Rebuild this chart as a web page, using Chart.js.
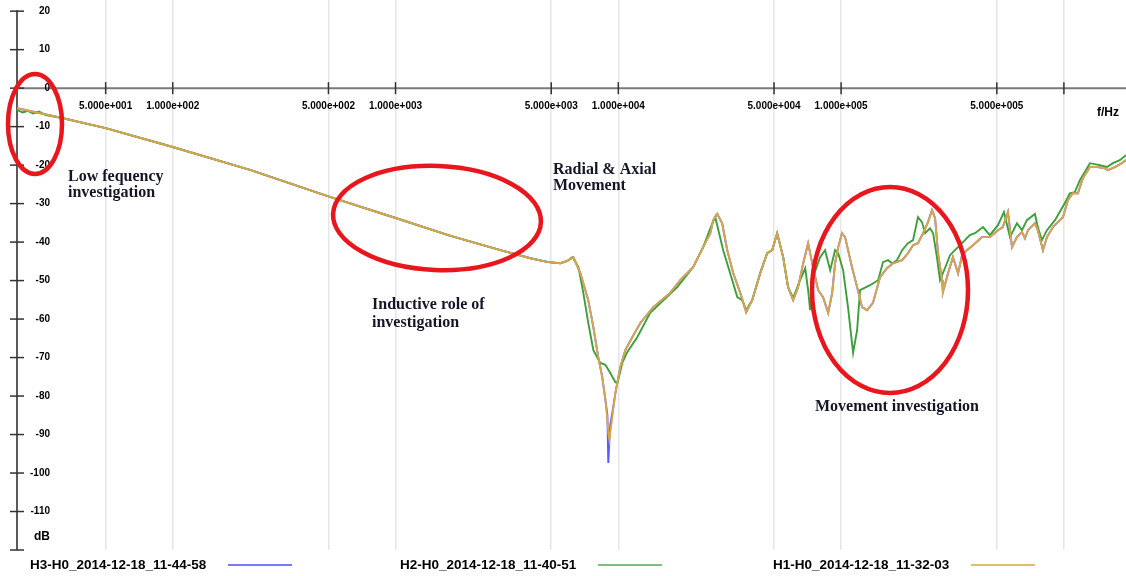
<!DOCTYPE html>
<html>
<head>
<meta charset="utf-8">
<script src="https://cdn.jsdelivr.net/npm/chart.js@4.4.1/dist/chart.umd.min.js"></script>
<style>
  html, body { margin: 0; padding: 0; background: #fff; }
  #wrap { width: 1126px; height: 576px; }
</style>
</head>
<body>
<div id="wrap"><canvas id="fra" width="1126" height="576"></canvas></div>
<script>
// frequency (Hz) and magnitude (dB)
const freqH1 = [20, 31.5, 50, 100, 224, 511, 1010, 1766, 2958, 4030, 4853, 5495, 5904, 6285, 6761, 7330, 7727, 8128, 8472, 8750,
  8933, 9016, 9120, 9204, 9397, 9705, 9908, 10210, 10740, 11560, 12560, 14350, 17100, 18970, 21680, 24040, 25880, 26680, 27800, 29250,
  30830, 32810, 35260, 37500, 39890, 43340, 46560, 49060, 51650, 54950, 57810, 60950, 64120, 67610, 71120, 74820, 78890, 82990, 87500, 91200,
  93970, 97050, 100900, 104200, 111900, 118000, 124200, 130900, 139000, 149600, 160700, 171000, 187900, 199600, 210300, 221300, 233300, 245500, 255900, 264200,
  272300, 283800, 286400, 302000, 317700, 335000, 349100, 367300, 390800, 428500, 465600, 505800, 532100, 561000, 584800, 615200, 648600, 668300, 690200, 741300,
  763800, 805400, 839500, 893000, 990800, 1042000, 1096000, 1156000, 1216000, 1309000, 1419000, 1527000, 1575000, 1694000, 1820000, 1897000];
const dbH1 = [-5.2, -7.7, -10.4, -15.3, -21.3, -28.3, -33.8, -38.4, -42.1, -44.2, -45.2, -45.5, -44.9, -43.9, -48.1, -55.1, -62.1, -69.9, -75.1, -81.0,
  -86.2, -89.6, -91.4, -89.6, -85.5, -79.2, -76.4, -72.5, -68.1, -64.7, -61.0, -56.9, -53.2, -49.9, -46.5, -41.3, -37.7, -34.3, -32.7, -35.1,
  -42.1, -48.1, -53.2, -58.2, -55.1, -48.1, -42.9, -42.1, -37.7, -43.9, -51.7, -55.1, -51.7, -45.5, -40.3, -46.5, -52.5, -54.3, -58.4, -53.2,
  -45.5, -41.3, -37.7, -38.7, -46.5, -51.7, -56.9, -57.7, -55.8, -49.1, -46.8, -45.5, -44.7, -42.9, -40.8, -40.3, -37.7, -34.8, -31.7, -33.8,
  -42.9, -49.9, -53.0, -48.1, -43.9, -48.1, -43.4, -42.1, -40.8, -38.7, -38.7, -36.9, -36.1, -32.2, -41.3, -38.7, -37.4, -39.0, -36.9, -35.1,
  -36.9, -42.1, -38.7, -36.1, -33.5, -29.1, -27.3, -27.3, -23.4, -20.5, -20.5, -20.8, -21.3, -20.5, -19.5, -18.7];
// H3 follows H1 except in the resonance dip near 9 kHz
const dbH3 = dbH1.map((v, i) => v);
dbH3[20] = -84.9; dbH3[21] = -97.4; dbH3[22] = -91.4; dbH3[23] = -87.5; dbH3[24] = -84.4;

const freqH2 = [20, 21.2, 22.4, 23.6, 25.1, 26.9, 31.5, 50, 100, 224, 511, 1010, 1766, 2958, 4030, 4853, 5495, 5904, 6223, 6622,
  6966, 7330, 7727, 8299, 8750, 9204, 9705, 9908, 10420, 10960, 12160, 13900, 18400, 21680, 24040, 25880, 27230, 29560, 31770, 34200,
  35980, 37500, 39890, 43340, 46560, 49060, 51650, 54950, 57810, 60950, 65460, 69020, 71120, 72610, 74820, 80540, 84720, 89330, 93970, 97050,
  102100, 107400, 113200, 118000, 121600, 134900, 146600, 154200, 162600, 169400, 178200, 187900, 199600, 210300, 221300, 230700, 238200, 250600, 258800, 269200,
  278000, 292400, 308300, 324300, 335000, 359700, 378400, 398900, 433500, 465600, 505800, 538300, 572800, 615200, 648600, 682300, 741300, 763800, 796200, 839500,
  912000, 1009000, 1064000, 1120000, 1180000, 1309000, 1449000, 1560000, 1660000, 1783000, 1897000];
const dbH2 = [-5.7, -6.3, -5.9, -6.6, -6.1, -7.0, -7.7, -10.4, -15.3, -21.3, -28.3, -33.8, -38.4, -42.1, -44.2, -45.2, -45.5, -44.9, -43.9, -46.5,
  -53.2, -61.0, -68.1, -71.4, -71.9, -74.0, -76.4, -76.6, -71.4, -68.6, -64.7, -58.4, -51.7, -46.5, -41.3, -36.4, -33.5, -42.1, -48.1, -54.3,
  -55.1, -57.7, -55.1, -48.1, -42.9, -42.1, -37.7, -43.9, -51.7, -54.5, -49.9, -46.8, -52.5, -57.7, -49.1, -43.9, -42.1, -47.3, -42.1, -42.9,
  -47.3, -56.9, -68.8, -62.9, -52.5, -51.2, -49.9, -45.2, -44.7, -45.5, -44.7, -42.1, -40.3, -39.5, -33.5, -34.8, -37.7, -36.4, -37.7, -43.9,
  -49.9, -46.8, -43.4, -42.1, -41.3, -39.5, -38.2, -37.7, -36.1, -38.2, -35.6, -32.2, -38.7, -35.1, -36.9, -34.3, -32.7, -36.1, -39.5, -36.9,
  -34.3, -29.9, -27.3, -27.0, -23.9, -19.5, -20.0, -20.5, -19.5, -18.7, -17.4];

const seriesNames = ['H3-H0_2014-12-18_11-44-58', 'H2-H0_2014-12-18_11-40-51', 'H1-H0_2014-12-18_11-32-03'];
const seriesColors = ['#5a5aff', '#3d9e3d', '#d9a74a'];
const legendLineColors = ['#7a7aff', '#7dc07d', '#e3bc72'];
const xTicks = [50, 100, 500, 1000, 5000, 10000, 50000, 100000, 500000, 1000000];
const yTicks = [20, 10, 0, -10, -20, -30, -40, -50, -60, -70, -80, -90, -100, -110, -120];

function toPoints(fs, vs) {
    return fs.map((f, i) => ({ x: f, y: vs[i] }));
}

// 5.000e+001 style
function sci(v) {
    const e = Math.floor(Math.log10(v) + 1e-9);
    const m = v / Math.pow(10, e);
    return m.toFixed(3) + 'e' + (e < 0 ? '-' : '+') + String(Math.abs(e)).padStart(3, '0');
}

const axesDeco = {
    id: 'axesDeco',
    beforeDatasetsDraw(chart) {
        const ctx = chart.ctx;
        const xs = chart.scales.x, ys = chart.scales.y;
        const left = chart.chartArea.left, right = chart.chartArea.right;
        const y0 = ys.getPixelForValue(0);
        ctx.save();
        // x axis at 0 dB
        ctx.strokeStyle = '#7a7a7a';
        ctx.lineWidth = 2;
        ctx.beginPath(); ctx.moveTo(left, y0); ctx.lineTo(right, y0); ctx.stroke();
        // y axis
        ctx.strokeStyle = '#5a5a5a';
        ctx.beginPath();
        ctx.moveTo(left, ys.getPixelForValue(20) - 1);
        ctx.lineTo(left, ys.getPixelForValue(-120));
        ctx.stroke();

        ctx.strokeStyle = '#333';
        ctx.lineWidth = 1.5;
        ctx.fillStyle = '#000';
        ctx.font = 'bold 10px "Liberation Sans", Arial, sans-serif';
        ctx.textBaseline = 'middle';
        ctx.textAlign = 'right';
        yTicks.forEach((v) => {
            const py = ys.getPixelForValue(v);
            ctx.beginPath(); ctx.moveTo(left - 7, py); ctx.lineTo(left + 7, py); ctx.stroke();
            if (v > -120) ctx.fillText(String(v), 50, py);
        });
        ctx.font = 'bold 12px "Liberation Sans", Arial, sans-serif';
        ctx.fillText('dB', 50, ys.getPixelForValue(-116.5));

        ctx.font = 'bold 10px "Liberation Sans", Arial, sans-serif';
        ctx.textAlign = 'center';
        xTicks.forEach((v) => {
            const px = xs.getPixelForValue(v);
            ctx.beginPath(); ctx.moveTo(px, y0 - 6); ctx.lineTo(px, y0 + 6); ctx.stroke();
            if (v < 1000000) ctx.fillText(sci(v), px, y0 + 18);
        });
        ctx.font = 'bold 12px "Liberation Sans", Arial, sans-serif';
        ctx.textAlign = 'left';
        ctx.fillText('f/Hz', 1097, y0 + 25);
        ctx.restore();
    },
    afterDatasetsDraw(chart) {
        const ctx = chart.ctx;
        ctx.save();
        // red marks
        ctx.strokeStyle = '#e8161d';
        ctx.lineWidth = 4.5;
        [[35, 124, 27, 50, 0], [437, 218, 104, 52, 0.04], [890, 290, 78, 103, 0]].forEach((e) => {
            ctx.beginPath();
            ctx.ellipse(e[0], e[1], e[2], e[3], e[4], 0, Math.PI * 2);
            ctx.stroke();
        });
        // notes
        ctx.fillStyle = '#151528';
        ctx.font = 'bold 16px "Liberation Serif", "Times New Roman", serif';
        ctx.textAlign = 'left';
        ctx.textBaseline = 'middle';
        ctx.fillText('Low fequency', 68, 177);
        ctx.fillText('investigation', 68, 193);
        ctx.fillText('Radial & Axial', 553, 170);
        ctx.fillText('Movement', 553, 186);
        ctx.fillText('Inductive role of', 372, 305);
        ctx.fillText('investigation', 372, 323);
        ctx.fillText('Movement investigation', 815, 407);

        // legend: name then line sample
        const legendX = [30, 400, 773];
        ctx.font = 'bold 13.5px "Liberation Sans", Arial, sans-serif';
        ctx.fillStyle = '#000';
        chart.data.datasets.forEach((ds, i) => {
            ctx.fillText(ds.label, legendX[i], 565);
            const w = ctx.measureText(ds.label).width;
            const lx = legendX[i] + Math.max(w, 185) + 13;
            ctx.strokeStyle = legendLineColors[i];
            ctx.lineWidth = 2;
            ctx.beginPath(); ctx.moveTo(lx, 565); ctx.lineTo(lx + 64, 565); ctx.stroke();
        });
        ctx.restore();
    }
};

const fraChart = new Chart(document.getElementById('fra'), {
    type: 'line',
    data: {
        datasets: [
            { label: seriesNames[0], data: toPoints(freqH1, dbH3), borderColor: seriesColors[0], order: 3 },
            { label: seriesNames[1], data: toPoints(freqH2, dbH2), borderColor: seriesColors[1], order: 2 },
            { label: seriesNames[2], data: toPoints(freqH1, dbH1), borderColor: seriesColors[2], order: 1 }
        ]
    },
    options: {
        responsive: false,
        animation: false,
        layout: { padding: { left: 17, right: 0, top: 0, bottom: 26 } },
        elements: {
            line: { borderWidth: 1.9, tension: 0, fill: false },
            point: { radius: 0 }
        },
        plugins: { legend: { display: false }, tooltip: { enabled: false } },
        scales: {
            x: {
                type: 'logarithmic',
                min: 20,
                max: 1.9e6,
                afterBuildTicks: (s) => { s.ticks = xTicks.map((v) => ({ value: v })); },
                grid: { color: '#e6e6e6', lineWidth: 1.5, drawTicks: false },
                border: { display: false },
                ticks: { display: false }
            },
            y: {
                display: false,
                min: -120,
                max: 22.9
            }
        }
    },
    plugins: [axesDeco]
});
</script>
</body>
</html>
